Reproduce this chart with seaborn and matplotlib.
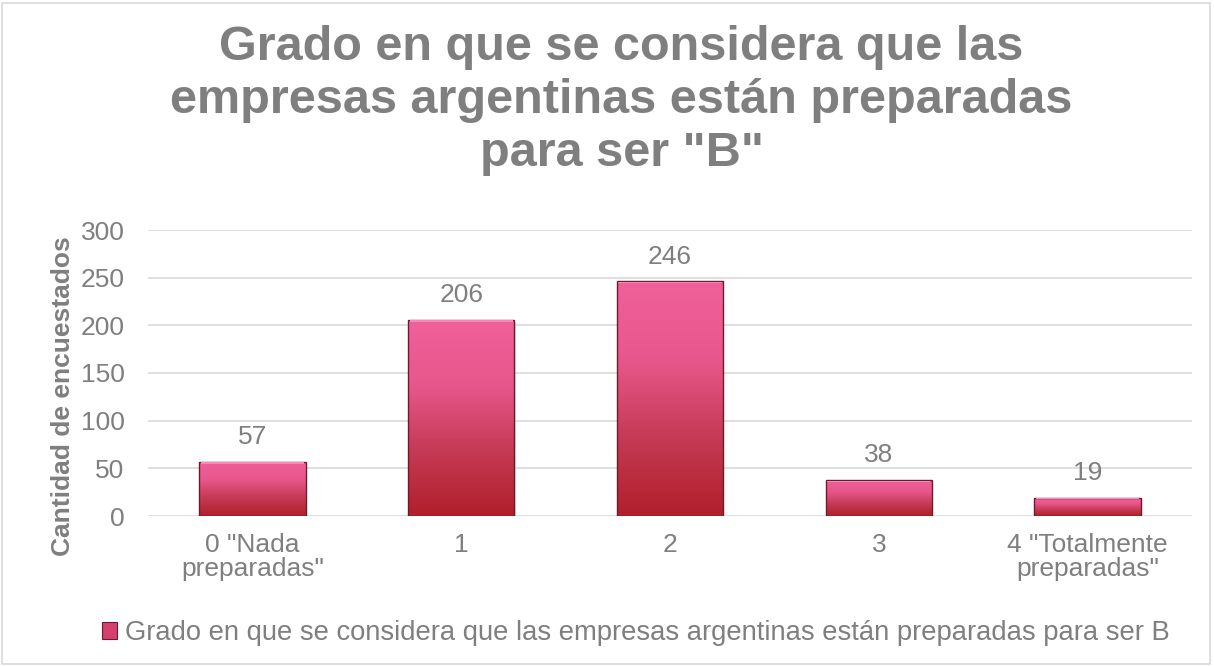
import numpy as np
import pandas as pd
import matplotlib
matplotlib.use("Agg")
import matplotlib.pyplot as plt
from matplotlib.colors import LinearSegmentedColormap
from matplotlib.patches import Patch, Rectangle
import seaborn as sns

categories = ['0 "Nada\npreparadas"', '1', '2', '3', '4 "Totalmente\npreparadas"']
values = [57, 206, 246, 38, 19]
yticks = [0, 50, 100, 150, 200, 250, 300]
title = 'Grado en que se considera que las\nempresas argentinas están preparadas\npara ser "B"'
ylabel = 'Cantidad de encuestados'
series_name = 'Grado en que se considera que las empresas argentinas están preparadas para ser B'

sns.set_theme(style="white")
plt.rcParams['font.family'] = ['Liberation Sans', 'DejaVu Sans']

gray = '#7F7F7F'
grad = LinearSegmentedColormap.from_list('bar', ['#B01F2A', '#C53A55', '#E8578C', '#F0619A'])

fig = plt.figure(figsize=(12.14, 6.66), dpi=100)
ax = fig.add_axes([148/1214, 1-516/666, (1192-148)/1214, (516-230)/666])

df = pd.DataFrame({'cat': categories, 'val': values})
sns.barplot(data=df, x='cat', y='val', ax=ax, width=0.51, color='#D0406A',
            edgecolor='none', zorder=3)

ax.set_ylim(0, 300)
ax.set_xlim(-0.5, len(categories) - 0.5)
ax.set_yticks(yticks)
ax.yaxis.grid(True, color='#D9D9D9', linewidth=1.2, zorder=0)
ax.set_axisbelow(True)
for s in ax.spines.values():
    s.set_visible(False)

# Gradient fill with a dark rim and a soft shadow for each bar
gradient = np.linspace(0, 1, 256).reshape(-1, 1)
for p in ax.patches:
    x0, y0 = p.get_x(), p.get_y()
    w, h = p.get_width(), p.get_height()
    p.set_facecolor('none')
    ax.add_patch(Rectangle((x0 + w * 0.02, y0 - 2.5), w * 0.99, h, color='#C8C8C8',
                           alpha=0.5, linewidth=0, zorder=2))
    im = ax.imshow(gradient, cmap=grad, aspect='auto', origin='lower',
                   extent=(x0, x0 + w, y0, y0 + h), zorder=3)
    im.set_clip_path(p)
    ax.add_patch(Rectangle((x0, y0), w, h, fill=False, edgecolor='#6E1A2C',
                           linewidth=1.0, zorder=4))
    ax.add_patch(Rectangle((x0 + w * 0.015, y0 + h - min(2.0, h * 0.08)),
                           w * 0.97, min(1.2, h * 0.05), color='#F58AB5',
                           linewidth=0, zorder=4))
    ax.annotate(f'{int(round(h))}', (x0 + w / 2, h), xytext=(0, 9),
                textcoords='offset points', ha='center', va='bottom',
                fontsize=19, color=gray, zorder=5)

ax.set_xlabel('')
ax.set_ylabel(ylabel, fontsize=19, fontweight='bold', color=gray)
ax.yaxis.set_label_coords(-0.070, 0.42)
ax.tick_params(axis='y', length=0, labelsize=19, labelcolor=gray, pad=17)
ax.tick_params(axis='x', length=0, labelsize=19, labelcolor=gray, pad=12)
ax.set_xticks(range(len(categories)))
ax.set_xticklabels(categories, linespacing=1.0)

fig.text(0.512, 0.962, title, ha='center', va='top', fontsize=35, fontweight='bold',
         color=gray, linespacing=1.22)

handle = Patch(facecolor='#D5416F', edgecolor='#6E1A2C', linewidth=0.8)
fig.legend([handle], [series_name], loc='center', bbox_to_anchor=(0.524, 1-633/666),
           frameon=False, fontsize=19.7, labelcolor=gray, handlelength=0.55,
           handleheight=0.55, handletextpad=0.3)

fig.patches.append(Rectangle((0.002, 0.003), 0.995, 0.993, transform=fig.transFigure,
                             fill=False, edgecolor='#D9D9D9', linewidth=1.2))

fig.savefig('out.png', dpi=100, facecolor='white')
